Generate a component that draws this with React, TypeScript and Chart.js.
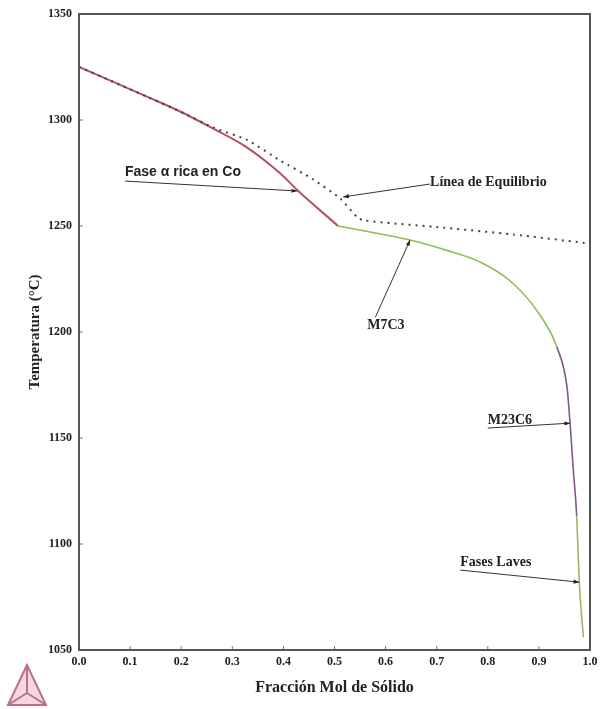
import React, { useEffect, useRef } from "react";
import { Chart, registerables } from "chart.js";

Chart.register(...registerables);

// Fase alfa rica en Co
const alphaX = [0, 0.067, 0.133, 0.198, 0.262, 0.329, 0.393, 0.427, 0.507];
const alphaT = [1325, 1318, 1311, 1304, 1296, 1287, 1275, 1267, 1250];
// M7C3
const m7c3X = [0.507, 0.58, 0.648, 0.72, 0.785, 0.849, 0.902, 0.935];
const m7c3T = [1250, 1246.7, 1243.4, 1238.5, 1233, 1223, 1208, 1193];
// M23C6
const m23c6X = [0.935, 0.955, 0.961, 0.967, 0.974];
const m23c6T = [1193, 1174, 1157, 1136, 1113];
// Fases Laves
const lavesX = [0.974, 0.979, 0.987];
const lavesT = [1113, 1082, 1056];
// Línea de Equilibrio
const eqX = [0, 0.067, 0.133, 0.198, 0.262, 0.329, 0.393, 0.458, 0.511, 0.545, 0.56, 0.7, 0.85, 0.99];
const eqT = [1325, 1318, 1311, 1304, 1296.5, 1290.6, 1281, 1272, 1263, 1254, 1252.5, 1249.5, 1246, 1242];

const xTicks = [0, 0.1, 0.2, 0.3, 0.4, 0.5, 0.6, 0.7, 0.8, 0.9, 1.0];
const yTicks = [1050, 1100, 1150, 1200, 1250, 1300, 1350];

const phaseColors = { m7c3: "#8cbf5a", m23c6: "#7d5a8c", laves: "#9cb56a" };

// annotation labels: text anchor, line start, arrow tip (data coordinates)
const annotations = [
  { text: "Fase \u03b1 rica en Co", tx: 0.09, ty: 1273.6, sx: 0.09, sy: 1271.2, ex: 0.427, ey: 1266.5, sans: true },
  { text: "L\u00ednea de Equilibrio", tx: 0.687, ty: 1268.9, sx: 0.687, sy: 1269.8, ex: 0.517, ey: 1263.7, sans: false },
  { text: "M7C3", tx: 0.564, ty: 1201.4, sx: 0.58, sy: 1207, ex: 0.648, ey: 1243.4, sans: false },
  { text: "M23C6", tx: 0.8, ty: 1156.6, sx: 0.8, sy: 1154.7, ex: 0.961, ey: 1157, sans: false },
  { text: "Fases Laves", tx: 0.746, ty: 1089.6, sx: 0.746, sy: 1087.7, ex: 0.979, ey: 1082, sans: false },
];

const toPts = (xs: number[], ys: number[]) => xs.map((x, i) => ({ x, y: ys[i] }));

const serif = "'Liberation Serif', 'DejaVu Serif', serif";
const sans = "'Liberation Sans', Arial, sans-serif";

const framePlugin = {
  id: "frame",
  afterDatasetsDraw(chart: any) {
    const { ctx, chartArea: a, scales } = chart;
    const xs = scales.x;
    const ys = scales.y;
    ctx.save();
    ctx.strokeStyle = "#777";
    ctx.lineWidth = 1;
    xTicks.forEach((v) => {
      const px = xs.getPixelForValue(v);
      ctx.beginPath();
      ctx.moveTo(px, a.bottom);
      ctx.lineTo(px, a.bottom - 4);
      ctx.stroke();
    });
    yTicks.forEach((v) => {
      const py = ys.getPixelForValue(v);
      ctx.beginPath();
      ctx.moveTo(a.left, py);
      ctx.lineTo(a.left + 4, py);
      ctx.stroke();
    });
    ctx.strokeStyle = "#555";
    ctx.lineWidth = 2;
    ctx.strokeRect(a.left, a.top, a.right - a.left, a.bottom - a.top);

    annotations.forEach((an) => {
      const sx = xs.getPixelForValue(an.sx);
      const sy = ys.getPixelForValue(an.sy);
      const ex = xs.getPixelForValue(an.ex);
      const ey = ys.getPixelForValue(an.ey);
      ctx.strokeStyle = "#333";
      ctx.lineWidth = 1;
      ctx.beginPath();
      ctx.moveTo(sx, sy);
      ctx.lineTo(ex, ey);
      ctx.stroke();
      const ang = Math.atan2(ey - sy, ex - sx);
      ctx.fillStyle = "#222";
      ctx.beginPath();
      ctx.moveTo(ex, ey);
      ctx.lineTo(ex - 6 * Math.cos(ang - 0.35), ey - 6 * Math.sin(ang - 0.35));
      ctx.lineTo(ex - 6 * Math.cos(ang + 0.35), ey - 6 * Math.sin(ang + 0.35));
      ctx.closePath();
      ctx.fill();
      ctx.font = an.sans ? `bold 14px ${sans}` : `bold 14px ${serif}`;
      ctx.textAlign = "left";
      ctx.textBaseline = "alphabetic";
      ctx.fillStyle = "#222";
      ctx.fillText(an.text, xs.getPixelForValue(an.tx), ys.getPixelForValue(an.ty));
    });
    ctx.restore();
  },
};

export default function App() {
  const ref = useRef<HTMLCanvasElement>(null);
  useEffect(() => {
    if (!ref.current) return;
    // carbide branch: M7C3 -> M23C6 -> Laves joined into one smooth curve
    const carbX = [...m7c3X, ...m23c6X.slice(1), ...lavesX.slice(1)];
    const carbT = [...m7c3T, ...m23c6T.slice(1), ...lavesT.slice(1)];
    const m23Start = m23c6X[0];
    const lavesStart = lavesX[0];
    const chart = new Chart(ref.current, {
      type: "line",
      data: {
        datasets: [
          {
            label: "L\u00ednea de Equilibrio",
            data: toPts(eqX, eqT),
            borderColor: "#444",
            borderWidth: 2,
            borderDash: [2, 5],
            pointRadius: 0,
            tension: 0.2,
            fill: false,
          },
          {
            label: "Fase \u03b1 rica en Co",
            data: toPts(alphaX, alphaT),
            borderColor: "#b5525e",
            borderWidth: 2,
            pointRadius: 0,
            cubicInterpolationMode: "monotone",
            fill: false,
          },
          {
            label: "Carburos",
            data: toPts(carbX, carbT),
            borderColor: phaseColors.m7c3,
            borderWidth: 1.6,
            pointRadius: 0,
            cubicInterpolationMode: "monotone",
            fill: false,
            segment: {
              borderColor: (c: any) => {
                const x0 = c.p0.parsed.x;
                if (x0 >= lavesStart) return phaseColors.laves;
                if (x0 >= m23Start) return phaseColors.m23c6;
                return phaseColors.m7c3;
              },
            },
          },
        ],
      },
      options: {
        responsive: false,
        animation: false,
        layout: { padding: { top: 14, right: 10, left: 0, bottom: 0 } },
        plugins: { legend: { display: false }, tooltip: { enabled: false } },
        scales: {
          x: {
            type: "linear",
            min: 0,
            max: 1,
            afterFit: (s: any) => {
              s.height = 59;
              s.paddingRight = 0;
              s.paddingLeft = 0;
            },
            afterBuildTicks: (s: any) => {
              s.ticks = xTicks.map((v) => ({ value: v }));
            },
            ticks: {
              padding: 5,
              color: "#222",
              font: { family: serif, weight: "bold", size: 12 },
              callback: (v: any) => Number(v).toFixed(1),
              maxRotation: 0,
            },
            grid: { display: false, drawTicks: false },
            border: { display: false },
            title: {
              display: true,
              text: "Fracci\u00f3n Mol de S\u00f3lido",
              color: "#222",
              font: { family: serif, weight: "bold", size: 16 },
              padding: { top: 4, bottom: 12 },
            },
          },
          y: {
            type: "linear",
            min: 1050,
            max: 1350,
            afterFit: (s: any) => {
              s.width = 79;
              s.paddingTop = 0;
              s.paddingBottom = 0;
            },
            afterBuildTicks: (s: any) => {
              s.ticks = yTicks.map((v) => ({ value: v }));
            },
            ticks: {
              padding: 7,
              color: "#222",
              font: { family: serif, weight: "bold", size: 12 },
              callback: (v: any) => String(v),
            },
            grid: { display: false, drawTicks: false },
            border: { display: false },
            title: {
              display: true,
              text: "Temperatura (\u00b0C)",
              color: "#222",
              font: { family: serif, weight: "bold", size: 15 },
              padding: { top: 26, bottom: 0 },
            },
          },
        },
      },
      plugins: [framePlugin],
    });
    return () => chart.destroy();
  }, []);

  return (
    <div style={{ position: "absolute", left: 0, top: 0, width: 600, height: 709, background: "#fff" }}>
      <canvas ref={ref} width={600} height={709} />
      <svg
        width={46}
        height={48}
        style={{ position: "absolute", left: 4, top: 661 }}
        viewBox="0 0 46 48"
      >
        <polygon points="23,4 4,44 42,44" fill="#f4d7e2" stroke="#b8708c" strokeWidth={2} />
        <line x1={23} y1={4} x2={23} y2={32} stroke="#b8708c" strokeWidth={2} />
        <line x1={4} y1={44} x2={23} y2={32} stroke="#b8708c" strokeWidth={2} />
        <line x1={42} y1={44} x2={23} y2={32} stroke="#b8708c" strokeWidth={2} />
      </svg>
    </div>
  );
}
